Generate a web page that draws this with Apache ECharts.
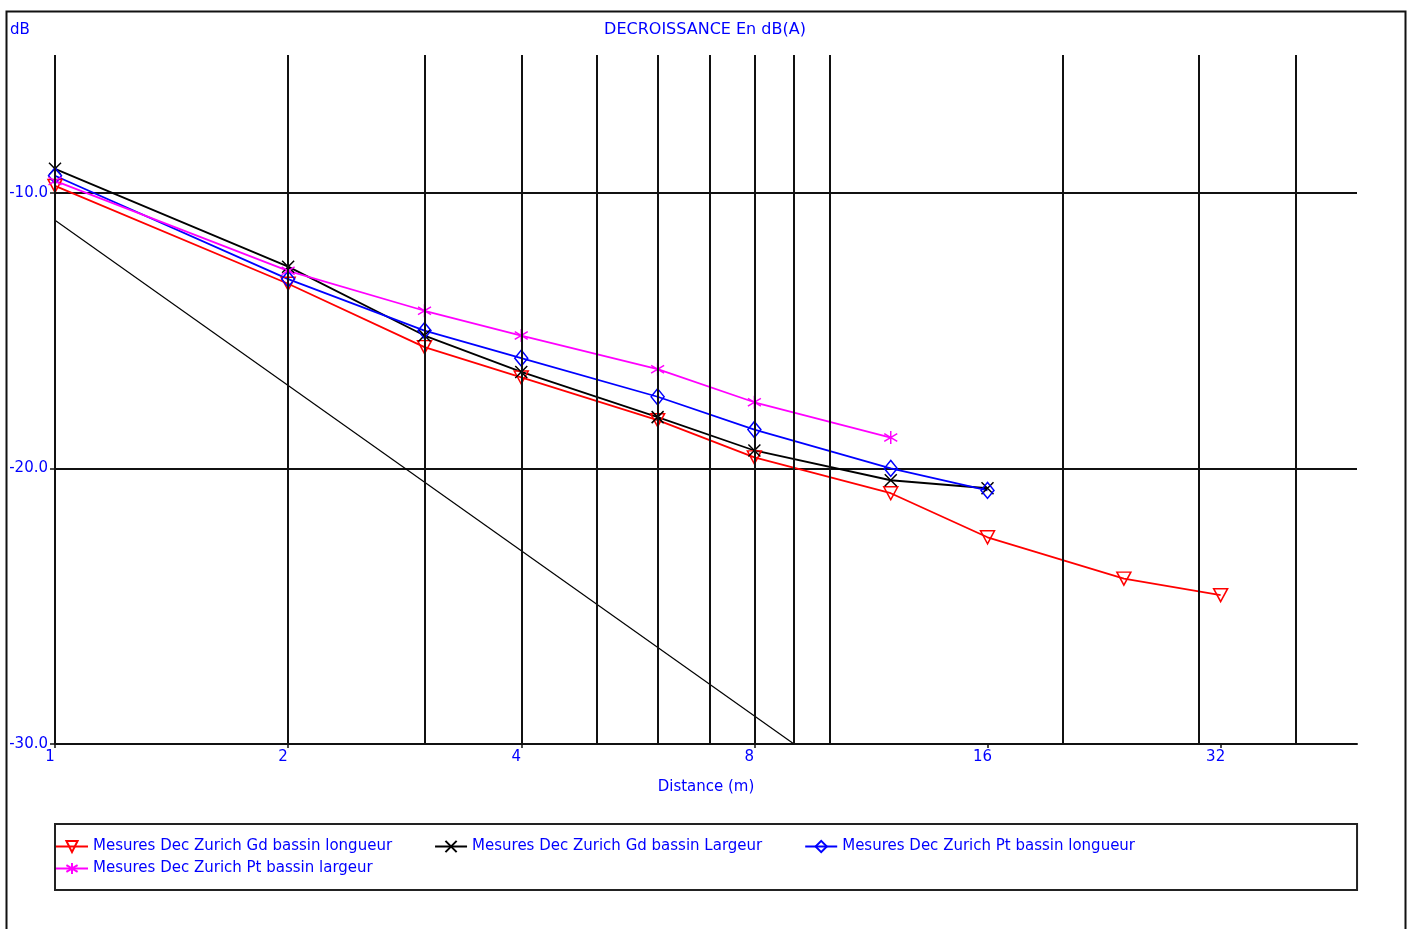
<!DOCTYPE html>
<html>
<head>
<meta charset="utf-8">
<script src="https://cdn.jsdelivr.net/npm/echarts@6/dist/echarts.min.js"></script>
<style>
html, body { margin: 0; padding: 0; background: #fff; }
#chart { width: 1410px; height: 929px; }
</style>
</head>
<body>
<div id="chart"></div>
<script>
// distances en m
var distances = [1, 2, 3, 4, 6, 8, 12, 16, 24, 32];
// niveaux en dB(A)
var gdLongueur = [-9.75, -13.3, -15.6, -16.7, -18.25, -19.6, -20.9, -22.5, -24.0, -24.6];
var gdLargeur = [-9.13, -12.68, -15.18, -16.5, -18.14, -19.35, -20.43, -20.72];
var ptLongueur = [-9.38, -13.13, -15.0, -16.0, -17.4, -18.59, -20.0, -20.8];
var ptLargeur = [-9.57, -12.83, -14.28, -15.18, -16.4, -17.6, -18.88];
// droite de reference
var refDist = [1, 9];
var refLevel = [-11, -30];

var xTicks = [1, 2, 4, 8, 16, 32];
var xGrid = [1, 2, 3, 4, 5, 6, 7, 8, 9, 10, 20, 30, 40];
var yTicks = [-30, -20, -10];

var names = [
	'Mesures Dec Zurich Gd bassin longueur',
	'Mesures Dec Zurich Gd bassin Largeur',
	'Mesures Dec Zurich Pt bassin longueur',
	'Mesures Dec Zurich Pt bassin largeur'
];

var FONT = 'DejaVu Sans';
var BLUE = '#0000ff';

function pairs(xs, ys) {
	var out = [];
	for (var i = 0; i < ys.length; i++) {
		out.push([xs[i], ys[i]]);
	}
	return out;
}

function mesure(name, data, color, symbol, size, rotate) {
	return {
		name : name,
		type : 'line',
		data : data,
		z : 3,
		symbol : symbol,
		symbolSize : size,
		symbolRotate : rotate || 0,
		showAllSymbol : true,
		color : color,
		lineStyle : { color : color, width : 1.8 },
		itemStyle : { color : 'rgba(0,0,0,0)', borderColor : color, borderWidth : 1.5 },
		emphasis : { disabled : true }
	};
}

var myChart = echarts.init(document.getElementById('chart'));

var legendText = { color : BLUE, fontSize : 15, fontFamily : FONT };

option = {
	animation : false,
	title : [ {
		text : 'DECROISSANCE En dB(A)',
		left : 'center',
		top : 22,
		padding : 0,
		textStyle : { color : BLUE, fontSize : 16, fontWeight : 'normal', fontFamily : FONT }
	}, {
		text : 'dB',
		left : 10,
		top : 23,
		padding : 0,
		textStyle : { color : BLUE, fontSize : 15, fontWeight : 'normal', fontFamily : FONT }
	} ],
	graphic : [ {
		type : 'rect',
		left : 4,
		top : 9,
		silent : true,
		shape : { width : 1399, height : 940 },
		style : { fill : 'none', stroke : '#111', lineWidth : 2 }
	} ],
	legend : [ {
		data : names.slice(0, 3),
		left : 55,
		top : 824,
		itemGap : 42,
		itemWidth : 32,
		itemHeight : 14,
		padding : [ 15, 222, 36, 0 ],
		borderColor : '#222',
		borderWidth : 2,
		textStyle : legendText
	}, {
		data : [ names[3] ],
		left : 55,
		top : 861,
		itemWidth : 32,
		itemHeight : 14,
		padding : 0,
		textStyle : legendText
	} ],
	grid : {
		left : 55,
		right : 53,
		top : 55,
		bottom : 185
	},
	xAxis : {
		type : 'log',
		logBase : 2,
		min : 1,
		max : 48,
		name : 'Distance (m)',
		nameLocation : 'middle',
		nameGap : 36,
		nameTextStyle : { color : BLUE, fontSize : 15, fontFamily : FONT },
		axisLine : { lineStyle : { color : '#111', width : 2 } },
		axisTick : { customValues : xTicks, length : 4, lineStyle : { color : '#111', width : 1.5 } },
		axisLabel : {
			customValues : xTicks,
			color : BLUE,
			fontSize : 15,
			fontFamily : FONT,
			margin : 6,
			padding : [ 0, 10, 0, 0 ]
		},
		splitLine : { show : false },
		minorSplitLine : { show : false }
	},
	yAxis : {
		type : 'value',
		min : -30,
		max : -5,
		interval : 10,
		axisLine : { show : false },
		axisTick : { show : true, customValues : yTicks, length : 5, lineStyle : { color : '#111', width : 1.5 } },
		axisLabel : {
			customValues : yTicks,
			color : BLUE,
			fontSize : 15,
			fontFamily : FONT,
			margin : 7,
			formatter : function(v) {
				return v.toFixed(1);
			}
		},
		splitLine : { show : true, lineStyle : { color : '#111', width : 2 } }
	},
	series : [ {
		name : 'reference',
		type : 'line',
		data : pairs(refDist, refLevel),
		z : 1,
		symbol : 'none',
		lineStyle : { color : '#000', width : 1.2 },
		emphasis : { disabled : true },
		markLine : {
			silent : true,
			symbol : [ 'none', 'none' ],
			label : { show : false },
			lineStyle : { color : '#111', width : 2, type : 'solid' },
			data : xGrid.map(function(v) {
				return { xAxis : v };
			})
		}
	},
	mesure(names[0], pairs(distances, gdLongueur), '#ff0000', 'triangle', [ 14, 13 ], 180),
	mesure(names[1], pairs(distances, gdLargeur), '#000000', 'path://M0,0L10,10M10,0L0,10', [ 12, 12 ]),
	mesure(names[2], pairs(distances, ptLongueur), '#0000ff', 'diamond', [ 13, 16 ]),
	mesure(names[3], pairs(distances, ptLargeur), '#ff00ff', 'path://M5,0L5,10M0,2L10,8M10,2L0,8', [ 13, 13 ]) ]
};

myChart.setOption(option);
</script>
</body>
</html>
